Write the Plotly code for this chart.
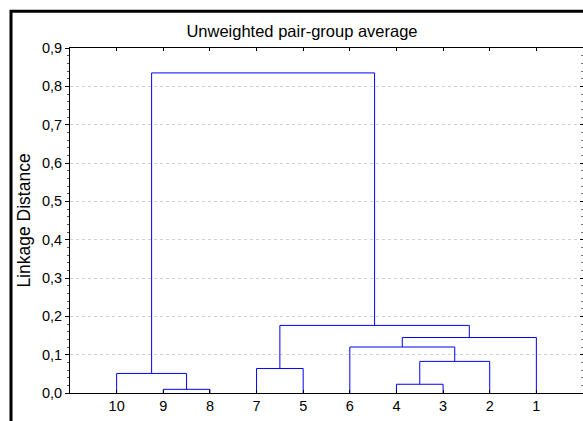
import plotly.graph_objects as go

# ---- data ----
leaf_labels = ["10", "9", "8", "7", "5", "6", "4", "3", "2", "1"]
# merges: (left member, right member, linkage distance); members are leaf labels or earlier cluster names
merge_names = ["A", "B", "C", "D", "E", "F", "G", "H", "ROOT"]
merge_left = ["9", "4", "10", "7", "B", "6", "F", "D", "C"]
merge_right = ["8", "3", "A", "5", "2", "E", "1", "G", "H"]
merge_height = [0.0096, 0.0228, 0.051, 0.064, 0.0825, 0.120, 0.1447, 0.1763, 0.835]
y_ticks = [0.0, 0.1, 0.2, 0.3, 0.4, 0.5, 0.6, 0.7, 0.8, 0.9]

# ---- build dendrogram segments ----
pos = {lab: i + 1 for i, lab in enumerate(leaf_labels)}
hgt = {lab: 0.0 for lab in leaf_labels}
xs, ys = [], []
for name, a, b, h in zip(merge_names, merge_left, merge_right, merge_height):
    xa, xb = pos[a], pos[b]
    xs += [xa, xa, xb, xb, None]
    ys += [hgt[a], h, h, hgt[b], None]
    pos[name] = (xa + xb) / 2
    hgt[name] = h

fig = go.Figure()
fig.add_trace(go.Scatter(x=xs, y=ys, mode="lines",
                         line=dict(color="#0000ff", width=1),
                         hoverinfo="skip", showlegend=False))
# invisible trace for the right-side mirrored y ticks
fig.add_trace(go.Scatter(x=[None], y=[None], yaxis="y2", showlegend=False))

font_family = "Arial, Liberation Sans, sans-serif"

fig.update_layout(
    width=583, height=421,
    margin=dict(l=70, r=0, t=48, b=28),
    paper_bgcolor="white", plot_bgcolor="white",
    separators=", ",
    font=dict(family=font_family, size=14.5, color="black"),
    title=dict(text="Unweighted pair-group average", x=0.518, xanchor="center",
               y=0.927, yanchor="middle", font=dict(size=16.5, color="black")),
    xaxis=dict(range=[0, 11], tickmode="array",
               tickvals=list(range(1, len(leaf_labels) + 1)), ticktext=leaf_labels,
               showline=True, linecolor="black", linewidth=1,
               ticks="inside", ticklen=3, tickcolor="black", mirror="ticks",
               showgrid=False, zeroline=False, tickfont=dict(size=14.5)),
    yaxis=dict(range=[0, 0.9], tickmode="array", tickvals=y_ticks,
               ticktext=[f"{v:.1f}".replace(".", ",") for v in y_ticks],
               showline=True, linecolor="black", linewidth=1,
               ticks="outside", ticklen=4, tickcolor="black",
               minor=dict(dtick=0.02, ticks="outside", ticklen=2, tickcolor="#555555", showgrid=False),
               showgrid=True, gridcolor="#d2d2d2", griddash="dot", gridwidth=1,
               zeroline=False, tickfont=dict(size=14.5),
               title=dict(text="Linkage Distance", font=dict(size=17.5), standoff=6)),
    yaxis2=dict(range=[0, 0.9], overlaying="y", side="right", showline=False,
                tickmode="array", tickvals=y_ticks, showticklabels=False,
                ticks="inside", ticklen=3, tickcolor="black",
                minor=dict(dtick=0.02, ticks="inside", ticklen=2, tickcolor="#777777"),
                showgrid=False, zeroline=False),
    shapes=[dict(type="rect", xref="paper", yref="paper",
                 x0=-0.115, x1=1.3, y0=-0.3, y1=1.1064,
                 line=dict(color="black", width=3), fillcolor="rgba(0,0,0,0)",
                 layer="below")],
)

fig.write_html("out.html", config={"displayModeBar": False},
               post_script="document.body.style.margin='0';document.body.style.overflow='hidden';")
